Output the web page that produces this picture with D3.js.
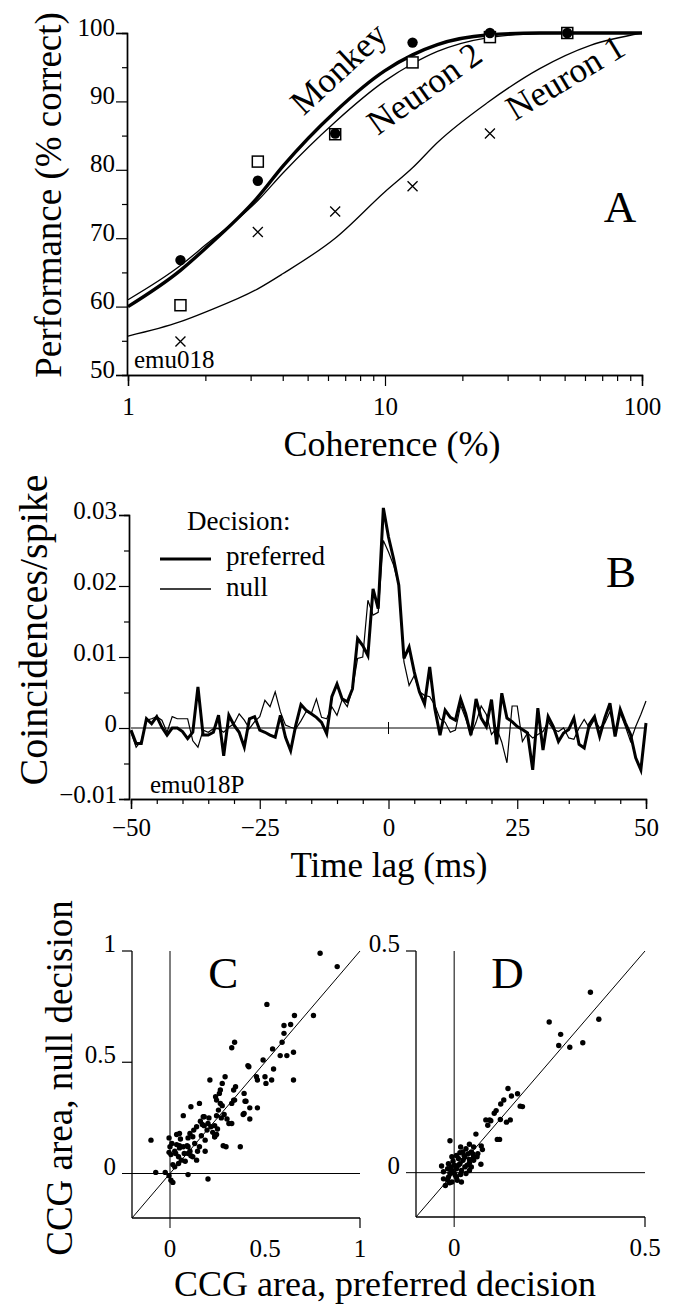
<!DOCTYPE html>
<html>
<head>
<meta charset="utf-8">
<script src="https://cdn.jsdelivr.net/npm/d3@7"></script>
<style>
  html, body { margin: 0; padding: 0; background: #fff; }
  svg { display: block; }
</style>
</head>
<body>
<svg id="fig" width="679" height="1305"></svg>
<script>
// ---- Panel A: psychometric / neurometric functions ----
const coherence = [1.6, 3.2, 6.4, 12.8, 25.6, 51.2];
const monkeyPct = [66.8, 78.4, 85.3, 98.6, 100, 100];
const neuron2Pct = [60.2, 81.2, 85.2, 95.7, 99.4, 100];
const neuron1Pct = [54.9, 70.9, 73.9, 77.6, 85.3, 100];

// fitted curves
const fitCoherence = [1, 1.6, 2, 3.2, 4, 6.4, 10, 12.8, 16, 25, 40, 63, 100];
const monkeyFit = [60, 65.3, 68.5, 76, 80.5, 88.5, 94.5, 96.8, 98.3, 99.7, 100, 100, 100];
const neuron2Fit = [61, 66, 69, 75.5, 79.5, 87, 93, 95.5, 97.3, 99.3, 99.9, 100, 100];
const neuron1Fit = [55.7, 57.8, 59.2, 62.6, 64.8, 70, 76.8, 80.3, 84, 89.8, 94.8, 98.2, 100];

const perfTicks = [50, 60, 70, 80, 90, 100];
const perfMinor = [55, 65, 75, 85, 95];
const cohTicks = [1, 10, 100];
const cohMinor = [2, 3, 4, 5, 6, 7, 8, 9, 20, 30, 40, 50, 60, 70, 80, 90];

// ---- Panel B: cross-correlograms (units of 0.001 coincidences/spike), lag -50..50 ms ----
const lagMs = d3.range(-50, 51);
const preferredMilli = [
  -0.3, -2.2, -2.2, 1.3, 0.6, 1.6, 0.1, -1.0, 0, 0,
  -0.5, -1.5, -0.6, 5.8, -1.0, -1.0, -0.6, 1.8, -3.9, 1.8,
  0.4, -0.6, -2.7, 1.3, 1.6, -0.3, -0.6, -1.0, -1.3, 1.8,
  -1.3, -3.2, 0.4, 3.3, 2.5, 2.0, 1.5, 0.8, -0.8, 4.4,
  6.2, 4.1, 3.7, 5.5, 12.6, 11.6, 10.2, 19.6, 16.8, 31.0,
  26.9, 23.8, 20.1, 9.8, 11.4, 7.9, 5.1, 3.4, 8.6, 2.7,
  -1.0, 2.5, 1.5, 1.1, 4.1, 2.0, -1.0, 4.1, 1.4, 0.2,
  4.0, -2.3, 4.9, 1.4, 0.9, 0.2, -0.2, -0.7, -5.9, 2.8,
  -3.1, 1.6, 0.2, -1.9, -0.7, -0.2, 1.4, -2.3, -2.8, 0.5,
  1.6, -1.2, 1.4, 3.5, -1.2, 2.6, 0.7, -0.9, -4.2, -5.9,
  0.7
];
const nullMilli = [
  -0.6, -2.7, -1.8, 1.1, 1.3, 1.6, 1.1, -0.6, 1.6, 1.3,
  1.3, 1.3, -1.8, -2.7, -0.3, -0.6, -0.1, -0.1, -0.6, 0.1,
  0.6, 2.0, 1.1, -0.1, 0.9, 1.6, 3.9, 3.0, 5.1, 2.3,
  0.4, 0.1, -0.1, 1.0, 2.3, 2.0, 4.1, 1.5, 1.3, 3.0,
  1.8, 4.0, 3.0, 5.5, 9.8, 10.0, 18.0, 15.9, 16.3, 26.4,
  24.8, 22.9, 20.1, 9.3, 6.0, 7.4, 5.1, 4.6, 4.4, 3.2,
  1.3, 0.8, -0.6, -0.3, 3.2, 1.3, -1.0, 0.8, 3.1, 1.9,
  -0.9, 0, -2.0, -4.9, 3.1, 3.1, -1.9, -0.7, -1.4, -0.9,
  -0.5, 0.9, -0.2, -0.5, 0, -1.4, -1.6, 0, 1.2, 0,
  1.2, 0, 0.7, 2.3, -0.5, 2.1, 0.2, -1.9, 0.2, 1.9,
  3.8
];
const ccgTicks = [-0.01, 0, 0.01, 0.02, 0.03];
const ccgMinor = [-0.005, 0.005, 0.015, 0.025];
const lagTicks = [-50, -25, 0, 25, 50];
const lagMinor = [-45, -40, -35, -30, -20, -15, -10, -5, 5, 10, 15, 20, 30, 35, 40, 45];

// ---- Panel C: CCG area, [preferred, null] ----
const areasC = [
  [0.51, 0.76], [0.655, 0.71], [0.755, 0.71], [0.60, 0.665], [0.635, 0.67], [0.60, 0.63],
  [0.59, 0.59], [0.34, 0.59], [0.325, 0.565], [0.54, 0.56], [0.65, 0.545], [0.615, 0.53],
  [0.58, 0.53], [0.49, 0.51], [0.41, 0.485], [0.415, 0.48], [0.545, 0.47], [0.29, 0.435],
  [0.21, 0.42], [0.275, 0.405], [0.455, 0.435], [0.50, 0.435], [0.505, 0.405], [0.65, 0.42],
  [0.345, 0.39], [0.265, 0.375], [0.24, 0.345], [0.245, 0.33], [0.26, 0.36], [0.34, 0.33],
  [0.39, 0.36], [0.395, 0.325], [0.325, 0.315], [0.155, 0.315], [0.11, 0.30], [0.46, 0.295],
  [0.255, 0.285], [0.275, 0.305], [0.07, 0.26], [0.175, 0.255], [0.285, 0.265], [0.27, 0.25],
  [0.39, 0.27], [0.42, 0.245], [0.31, 0.225], [0.325, 0.225], [0.18, 0.255], [0.16, 0.235],
  [0.215, 0.21], [0.195, 0.195], [0.14, 0.21], [0.125, 0.195], [0.235, 0.215], [0.225, 0.185],
  [0.25, 0.20], [0.12, 0.165], [0.105, 0.18], [0.095, 0.16], [0.05, 0.18], [0.035, 0.175],
  [0.165, 0.17], [0.185, 0.15], [0.235, 0.165], [0.245, 0.175], [0.28, 0.125], [0.295, 0.12],
  [0.37, 0.12], [-0.10, 0.15], [-0.005, 0.16], [0.0, 0.12], [0.01, 0.135], [0.035, 0.13],
  [0.025, 0.10], [-0.005, 0.095], [0.005, 0.085], [0.05, 0.115], [0.09, 0.125], [0.095, 0.12],
  [0.095, 0.09], [0.105, 0.10], [0.12, 0.075], [0.14, 0.06], [0.145, 0.10], [0.185, 0.10],
  [0.045, 0.075], [0.045, 0.045], [0.015, 0.04], [0.025, 0.03], [0.06, 0.06], [0.08, 0.055],
  [-0.075, 0.005], [-0.025, 0.005], [-0.005, -0.01], [0.005, -0.03], [0.015, -0.04], [0.095, -0.005],
  [0.20, -0.025], [0.03, 0.09], [0.075, 0.09], [0.11, 0.08], [0.055, 0.155], [0.17, 0.22],
  [0.205, 0.25], [0.245, 0.26], [0.30, 0.245], [0.40, 0.325], [0.385, 0.265], [0.42, 0.295],
  [0.535, 0.42], [0.46, 0.42], [0.335, 0.375], [0.335, 0.33], [0.265, 0.315], [0.235, 0.165],
  [0.05, 0.125], [0.07, 0.12], [0.13, 0.135], [0.155, 0.12], [0.18, 0.215], [0.20, 0.225],
  [0.79, 0.99], [0.88, 0.93]
];

// ---- Panel D: CCG area, [preferred, null] ----
const areasD = [
  [0.249, 0.34], [0.379, 0.346], [0.279, 0.312], [0.274, 0.287], [0.303, 0.283], [0.337, 0.293],
  [0.357, 0.407], [0.141, 0.19], [0.15, 0.173], [0.166, 0.178], [0.13, 0.164], [0.173, 0.15],
  [0.179, 0.149], [0.122, 0.155], [0.105, 0.134], [0.083, 0.119], [0.096, 0.117], [0.121, 0.12],
  [0.147, 0.119], [0.137, 0.114], [0.113, 0.075], [0.119, 0.075], [0.057, 0.087], [0.071, 0.06],
  [-0.011, 0.072], [0.04, 0.064], [0.051, 0.058], [0.017, 0.058], [0.031, 0.054], [0.045, 0.047],
  [0.062, 0.043], [0.023, 0.047], [0.006, 0.039], [0.011, 0.032], [0.028, 0.036], [0.04, 0.03],
  [0.051, 0.036], [0.07, 0.019], [-0.003, 0.026], [-0.015, 0.02], [0, 0.017], [0.015, 0.02],
  [0.034, 0.017], [-0.033, 0.015], [-0.017, 0.009], [-0.006, 0.005], [0.006, 0.009], [0.019, 0.005],
  [0.028, 0.013], [0.04, 0.005], [-0.011, -0.002], [0.003, -0.006], [0.017, -0.004], [-0.028, -0.014],
  [-0.017, -0.017], [-0.006, -0.021], [-0.023, -0.029], [0.008, -0.017], [0.019, -0.021], [0.006, -0.01],
  [0.04, 0.022], [0.051, 0.028], [0.023, 0.028], [0.011, 0.017], [-0.008, 0.013], [-0.028, 0.002],
  [-0.015, -0.01], [0, -0.001], [0.031, -0.002], [0.049, 0.042], [0.06, 0.036], [0.074, 0.052],
  [0.093, 0.119], [0.088, 0.107], [0.11, 0.14], [-0.012, -0.023], [0.015, 0.045], [0.026, 0.039],
  [0.037, 0.043], [0.045, 0.013], [-0.006, 0.036]
];

const SERIF = '"Liberation Serif", "Times New Roman", Times, serif';
const svg = d3.select('#fig');
const TICK_FONT = 25;

function styleAxis(g, domainWidth) {
  g.attr('font-family', null).attr('font-size', TICK_FONT);
  g.selectAll('text').style('font-family', SERIF).style('font-size', TICK_FONT + 'px');
  g.select('.domain').attr('stroke-width', domainWidth);
  g.selectAll('.tick line').attr('stroke-width', 1.2);
}

function label(g, x, y, size, str, opts = {}) {
  const t = g.append('text').attr('x', x).attr('y', y)
    .style('font-family', SERIF).style('font-size', size + 'px')
    .attr('fill', '#000').text(str);
  if (opts.anchor) t.attr('text-anchor', opts.anchor);
  if (opts.dy) t.attr('dy', opts.dy);
  if (opts.transform) t.attr('transform', opts.transform);
  return t;
}

// =================== Panel A ===================
const xA = d3.scaleLog().domain([1, 100]).range([128, 642]);
const yA = d3.scaleLinear().domain([50, 100]).range([375, 33]);
const gA = svg.append('g');

gA.append('g')
  .attr('transform', `translate(${xA(1) - 1},0)`)
  .call(d3.axisLeft(yA).tickValues(perfMinor).tickSize(5).tickFormat(''))
  .call(g => styleAxis(g, 1.4));
gA.append('g')
  .attr('transform', `translate(${xA(1) - 1},0)`)
  .call(d3.axisLeft(yA).tickValues(perfTicks).tickSize(11).tickPadding(1).tickFormat(d3.format('d')))
  .call(g => styleAxis(g, 1.4))
  .call(g => g.selectAll('text').attr('dy', '0.08em'));

gA.append('g')
  .attr('transform', `translate(0,${yA(50)})`)
  .call(d3.axisBottom(xA).tickValues(cohMinor).tickSize(6).tickFormat(''))
  .call(g => styleAxis(g, 1.4));
gA.append('g')
  .attr('transform', `translate(0,${yA(50)})`)
  .call(d3.axisBottom(xA).tickValues(cohTicks).tickSize(11).tickPadding(11).tickFormat(d3.format('d')))
  .call(g => styleAxis(g, 1.4));

const lineA = d3.line()
  .x((d, i) => xA(fitCoherence[i]))
  .y(d => yA(d))
  .curve(d3.curveMonotoneX);

gA.append('path').datum(neuron1Fit).attr('d', lineA)
  .attr('fill', 'none').attr('stroke', '#000').attr('stroke-width', 1.3);
gA.append('path').datum(neuron2Fit).attr('d', lineA)
  .attr('fill', 'none').attr('stroke', '#000').attr('stroke-width', 1.3);
gA.append('path').datum(monkeyFit).attr('d', lineA)
  .attr('fill', 'none').attr('stroke', '#000').attr('stroke-width', 3.4);

// neuron 1: crosses
const cross = 5;
gA.append('g').selectAll('path')
  .data(neuron1Pct)
  .join('path')
  .attr('d', (d, i) => {
    const x = xA(coherence[i]), y = yA(d);
    return `M${x - cross},${y - cross}L${x + cross},${y + cross}M${x - cross},${y + cross}L${x + cross},${y - cross}`;
  })
  .attr('stroke', '#000').attr('stroke-width', 1.3);

// neuron 2: open squares
gA.append('g').selectAll('rect')
  .data(neuron2Pct)
  .join('rect')
  .attr('x', (d, i) => xA(coherence[i]) - 5.5)
  .attr('y', d => yA(d) - 5.5)
  .attr('width', 11).attr('height', 11)
  .attr('fill', '#fff').attr('stroke', '#000').attr('stroke-width', 1.5);

// monkey: filled circles
gA.append('g').selectAll('circle')
  .data(monkeyPct)
  .join('circle')
  .attr('cx', (d, i) => xA(coherence[i]))
  .attr('cy', d => yA(d))
  .attr('r', 5.2)
  .attr('fill', '#000');

label(gA, 338, 68, 35, 'Monkey', { anchor: 'middle', dy: '0.35em', transform: 'rotate(-42.7,338,68)' });
label(gA, 424, 88, 35, 'Neuron 2', { anchor: 'middle', dy: '0.35em', transform: 'rotate(-35.5,424,88)' });
label(gA, 565, 77, 35, 'Neuron 1', { anchor: 'middle', dy: '0.35em', transform: 'rotate(-31,565,77)' });

label(gA, 620, 222, 45, 'A', { anchor: 'middle' });
label(gA, 134, 368, 25, 'emu018');

label(gA, 392, 456, 36, 'Coherence (%)', { anchor: 'middle' });
label(gA, 0, 0, 37, 'Performance (% correct)', { anchor: 'middle', transform: 'translate(61,195) rotate(-90)' });

// =================== Panel B ===================
const xB = d3.scaleLinear().domain([-50, 50]).range([131, 646]);
const yB = d3.scaleLinear().domain([-0.01, 0.03]).range([799, 515]);
const gB = svg.append('g');

gB.append('g')
  .attr('transform', `translate(${xB(-50) - 2},0)`)
  .call(d3.axisLeft(yB).tickValues(ccgMinor).tickSize(5).tickFormat(''))
  .call(g => styleAxis(g, 1.4));
gB.append('g')
  .attr('transform', `translate(${xB(-50) - 2},0)`)
  .call(d3.axisLeft(yB).tickValues(ccgTicks).tickSize(10).tickPadding(2)
    .tickFormat(d => d === 0 ? '0' : d3.format('.2f')(d)))
  .call(g => styleAxis(g, 1.4))
  .call(g => g.selectAll('text').attr('dy', '0.12em'));

gB.append('g')
  .attr('transform', `translate(0,${yB(-0.01)})`)
  .call(d3.axisBottom(xB).tickValues(lagMinor).tickSize(5).tickFormat(''))
  .call(g => styleAxis(g, 1.4));
gB.append('g')
  .attr('transform', `translate(0,${yB(-0.01)})`)
  .call(d3.axisBottom(xB).tickValues(lagTicks).tickSize(10).tickPadding(9).tickFormat(d3.format('d')))
  .call(g => styleAxis(g, 1.4));

// zero line and centre tick
gB.append('line').attr('x1', xB(-50)).attr('x2', xB(50))
  .attr('y1', yB(0)).attr('y2', yB(0)).attr('stroke', '#000').attr('stroke-width', 1);
gB.append('line').attr('x1', xB(0)).attr('x2', xB(0))
  .attr('y1', yB(0) - 6).attr('y2', yB(0) + 6).attr('stroke', '#000').attr('stroke-width', 1);

const lineB = d3.line()
  .x((d, i) => xB(lagMs[i]))
  .y(d => yB(d / 1000));

gB.append('path').datum(nullMilli).attr('d', lineB)
  .attr('fill', 'none').attr('stroke', '#000').attr('stroke-width', 1.2)
  .attr('stroke-linejoin', 'miter');
gB.append('path').datum(preferredMilli).attr('d', lineB)
  .attr('fill', 'none').attr('stroke', '#000').attr('stroke-width', 3)
  .attr('stroke-linejoin', 'miter');

// legend
label(gB, 187, 530, 27, 'Decision:');
gB.append('line').attr('x1', 160).attr('x2', 211).attr('y1', 559).attr('y2', 559)
  .attr('stroke', '#000').attr('stroke-width', 3);
label(gB, 226, 565, 27, 'preferred');
gB.append('line').attr('x1', 160).attr('x2', 211).attr('y1', 589).attr('y2', 589)
  .attr('stroke', '#000').attr('stroke-width', 1.3);
label(gB, 226, 596, 27, 'null');

label(gB, 621, 587, 45, 'B', { anchor: 'middle' });
label(gB, 150, 793, 25, 'emu018P');

label(gB, 389, 877, 35, 'Time lag (ms)', { anchor: 'middle' });
label(gB, 0, 0, 40, 'Coincidences/spike', { anchor: 'middle', transform: 'translate(47,630) rotate(-90)' });

// =================== Panels C & D ===================
function scatterPanel(x, y, points, yTicks, xTicks, xLabels, letter) {
  const g = svg.append('g');
  const [x0, x1] = x.domain();
  const [y0, y1] = y.domain();

  // axes (left and bottom)
  g.append('line').attr('x1', x(x0)).attr('x2', x(x0)).attr('y1', y(y0)).attr('y2', y(y1))
    .attr('stroke', '#000').attr('stroke-width', 1.3);
  g.append('line').attr('x1', x(x0)).attr('x2', x(x1)).attr('y1', y(y0)).attr('y2', y(y0))
    .attr('stroke', '#000').attr('stroke-width', 1.3);

  // zero lines, extending past the axes as ticks
  g.append('line').attr('x1', x(x0) - 10).attr('x2', x(x1)).attr('y1', y(0)).attr('y2', y(0))
    .attr('stroke', '#000').attr('stroke-width', 1);
  g.append('line').attr('x1', x(0)).attr('x2', x(0)).attr('y1', y(y0) + 10).attr('y2', y(y1))
    .attr('stroke', '#000').attr('stroke-width', 1);

  // unity line
  g.append('line').attr('x1', x(x0)).attr('y1', y(y0)).attr('x2', x(x1)).attr('y2', y(y1))
    .attr('stroke', '#000').attr('stroke-width', 1);

  yTicks.forEach(v => {
    g.append('line').attr('x1', x(x0) - 10).attr('x2', x(x0)).attr('y1', y(v)).attr('y2', y(v))
      .attr('stroke', '#000').attr('stroke-width', 1.2);
  });
  [0].concat(yTicks).forEach(v => {
    label(g, x(x0) - 16, y(v) + 1, TICK_FONT, String(v), { anchor: 'end' });
  });

  xTicks.forEach(v => {
    g.append('line').attr('x1', x(v)).attr('x2', x(v)).attr('y1', y(y0)).attr('y2', y(y0) + 10)
      .attr('stroke', '#000').attr('stroke-width', 1.2);
  });
  xLabels.forEach(v => {
    label(g, x(v), y(y0) + 39, TICK_FONT, String(v), { anchor: 'middle' });
  });

  g.append('g').selectAll('circle')
    .data(points)
    .join('circle')
    .attr('cx', d => x(d[0]))
    .attr('cy', d => y(d[1]))
    .attr('r', 2.7)
    .attr('fill', '#000');

  label(g, x(x0) + (x(x1) - x(x0)) * 0.4, 988, 45, letter, { anchor: 'middle' });
  return g;
}

const xC = d3.scaleLinear().domain([-0.2, 1]).range([132, 360]);
const yC = d3.scaleLinear().domain([-0.2, 1]).range([1218, 951]);
scatterPanel(xC, yC, areasC, [0.5, 1], [1], [0, 0.5, 1], 'C');

const xD = d3.scaleLinear().domain([-0.1, 0.5]).range([416, 645]);
const yD = d3.scaleLinear().domain([-0.1, 0.5]).range([1217, 951]);
scatterPanel(xD, yD, areasD, [0.5], [0.5], [0, 0.5], 'D');

label(svg, 385, 1296, 36, 'CCG area, preferred decision', { anchor: 'middle' });
label(svg, 0, 0, 37, 'CCG area, null decision', { anchor: 'middle', transform: 'translate(72,1078) rotate(-90)' });
</script>
</body>
</html>
